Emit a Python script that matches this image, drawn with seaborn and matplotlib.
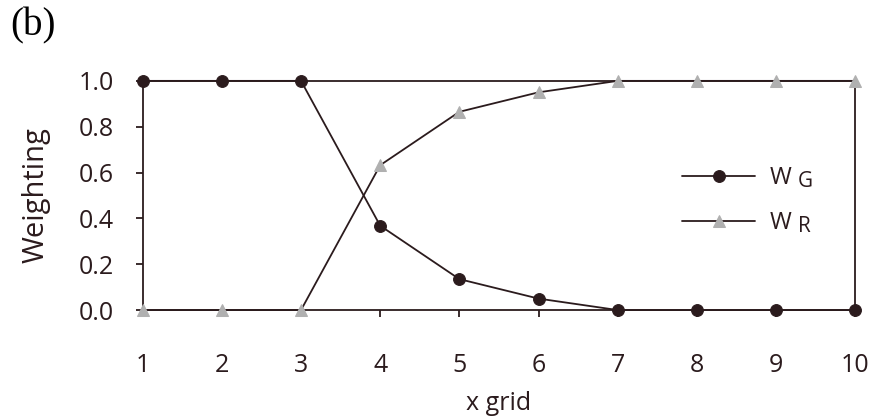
import matplotlib
matplotlib.use("Agg")
import matplotlib.pyplot as plt
import matplotlib._mathtext as _mt
import seaborn as sns
import pandas as pd

x_grid = [1, 2, 3, 4, 5, 6, 7, 8, 9, 10]
w_g = [1.0, 1.0, 1.0, 0.368, 0.135, 0.050, 0.0, 0.0, 0.0, 0.0]
w_r = [0.0, 0.0, 0.0, 0.632, 0.865, 0.950, 1.0, 1.0, 1.0, 1.0]
y_ticks = [0.0, 0.2, 0.4, 0.6, 0.8, 1.0]
label_g = r"W $_{\mathregular{G}}$"
label_r = r"W $_{\mathregular{R}}$"

# larger subscripts, as in the reference legend
_mt.SHRINK_FACTOR = 0.88

sns.set_style("ticks")
plt.rcParams["font.family"] = ["Open Sans", "DejaVu Sans"]
plt.rcParams["mathtext.default"] = "regular"

dark = "#2b1b1d"
gray = "#b0b0b0"

df = pd.DataFrame({"x": x_grid, "wg": w_g, "wr": w_r})

fig = plt.figure(figsize=(8.7, 4.19), dpi=100)
ax = fig.add_axes([0.164, 0.26, 0.819, 0.547])

sns.lineplot(data=df, x="x", y="wg", ax=ax, color=dark, marker="o",
             markersize=8.5, markerfacecolor=dark, markeredgecolor=dark,
             linewidth=1.3, label=label_g, clip_on=False, zorder=3)
sns.lineplot(data=df, x="x", y="wr", ax=ax, color=dark, marker="^",
             markersize=8.5, markerfacecolor=gray, markeredgecolor=gray,
             linewidth=1.3, label=label_r, clip_on=False, zorder=3)

ax.set_xlim(1, 10)
ax.set_ylim(0, 1)
ax.set_xticks(x_grid)
ax.set_yticks(y_ticks)
ax.set_yticklabels([f"{v:.1f}" for v in y_ticks])
for s in ax.spines.values():
    s.set_color(dark)
    s.set_linewidth(1.3)
ax.tick_params(axis="both", colors=dark, labelcolor=dark, labelsize=18,
               length=5, width=1.3, direction="out")
ax.tick_params(axis="x", pad=26)
ax.tick_params(axis="y", pad=16)

ax.set_xlabel("x grid", fontsize=18, color=dark, labelpad=9)
ax.set_ylabel("Weighting", fontsize=21, color=dark, labelpad=20)

leg = ax.legend(loc="center left", bbox_to_anchor=(0.757, 0.478), frameon=False,
                fontsize=17, handlelength=3.1, labelspacing=0.85,
                handletextpad=0.6, borderpad=0, borderaxespad=0,
                labelcolor=dark)

fig.text(0.012, 0.982, "(b)", fontsize=28, family="Liberation Serif",
         va="top", ha="left", color="black")

fig.savefig("out.png", dpi=100)
